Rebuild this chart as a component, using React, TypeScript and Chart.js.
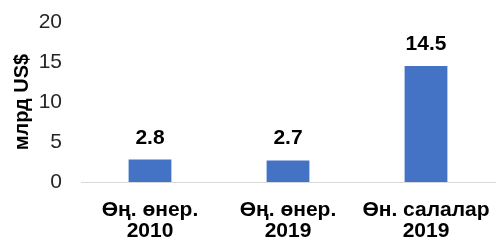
import React, { useEffect, useRef } from "react";
import { Chart, registerables } from "chart.js";

Chart.register(...registerables);

const categories: string[][] = [
  ["Өң. өнер.", "2010"],
  ["Өң. өнер.", "2019"],
  ["Өн. салалар", "2019"],
];
const values: number[] = [2.8, 2.7, 14.5];
const yTicks = { min: 0, max: 20, step: 5 };
const yTitle = "млрд US$";

const FONT = "Arial, 'Liberation Sans', sans-serif";

const dataLabels = {
  id: "dataLabels",
  afterDatasetsDraw(chart: any) {
    const ctx = chart.ctx;
    const meta = chart.getDatasetMeta(0);
    ctx.save();
    ctx.font = `bold 21px ${FONT}`;
    ctx.fillStyle = "#000000";
    ctx.textAlign = "center";
    ctx.textBaseline = "alphabetic";
    meta.data.forEach((el: any, i: number) => {
      const v = chart.data.datasets[0].data[i] as number;
      ctx.fillText(v.toFixed(1), el.x, el.y - 16);
    });
    ctx.restore();
  },
};

export default function App() {
  const ref = useRef<HTMLCanvasElement | null>(null);
  useEffect(() => {
    if (!ref.current) return;
    const chart = new Chart(ref.current, {
      type: "bar",
      data: {
        labels: categories,
        datasets: [
          {
            data: values,
            backgroundColor: "#4472C4",
            categoryPercentage: 1,
            barPercentage: 0.31,
          },
        ],
      },
      options: {
        animation: false,
        responsive: false,
        maintainAspectRatio: false,
        layout: { padding: { top: 22, left: 10, right: 4, bottom: 0 } },
        plugins: {
          legend: { display: false },
          tooltip: { enabled: false },
        },
        scales: {
          x: {
            grid: { display: false, drawTicks: false },
            border: { display: true, color: "#d9d9d9", width: 1 },
            ticks: {
              color: "#000000",
              font: { family: FONT, size: 21, weight: "bold", lineHeight: 1.0 },
              padding: 18,
              maxRotation: 0,
              autoSkip: false,
            },
            afterFit: (s: any) => {
              s.height = 60;
              s.paddingLeft = 0;
              s.paddingRight = 0;
            },
          },
          y: {
            min: yTicks.min,
            max: yTicks.max,
            grid: { display: false, drawTicks: false },
            border: { display: false },
            ticks: {
              stepSize: yTicks.step,
              color: "#262626",
              font: { family: FONT, size: 21 },
              padding: 19,
            },
            title: {
              display: true,
              text: yTitle,
              color: "#000000",
              font: { family: FONT, size: 20, weight: "bold" },
              padding: { top: 0, bottom: 0 },
            },
            afterFit: (s: any) => {
              s.width = 71;
              s.paddingTop = 0;
              s.paddingBottom = 0;
            },
          },
        },
      },
      plugins: [dataLabels],
    });
    return () => chart.destroy();
  }, []);
  return (
    <div style={{ position: "fixed", left: 0, top: 0, width: 499, height: 242, background: "#fff" }}>
      <canvas ref={ref} width={499} height={242} style={{ width: 499, height: 242 }} />
    </div>
  );
}
